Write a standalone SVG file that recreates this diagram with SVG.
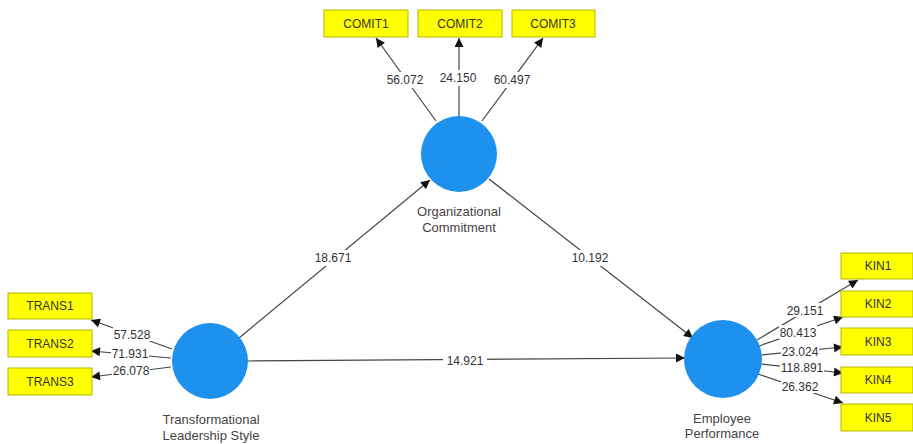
<svg xmlns="http://www.w3.org/2000/svg" width="913" height="444" viewBox="0 0 913 444">
<style>
.ind rect{fill:#ffff00;stroke:#b5b500;stroke-width:1}
.ind text{font-family:"Liberation Sans",Arial,sans-serif;font-size:12px;fill:#333;text-anchor:middle}
.lv circle{fill:#1e90ee}
.lv text{font-family:"Liberation Sans",Arial,sans-serif;font-size:13px;fill:#444;text-anchor:middle}
.c line{stroke:#444;stroke-width:1.2;marker-end:url(#ah)}
.c rect{fill:#fff}
.c text{font-family:"Liberation Sans",Arial,sans-serif;font-size:12px;fill:#333;text-anchor:middle}
</style>
<defs>
<marker id="ah" viewBox="0 0 10 10" refX="10" refY="5" markerWidth="10" markerHeight="9" markerUnits="userSpaceOnUse" orient="auto">
<path d="M0,0L10,5L0,10z" fill="#111"/>
</marker>
</defs>
<rect width="913" height="444" fill="#fff"/>
<g class="c" id="connectors">
<line x1="436" y1="121" x2="376" y2="38"/>
<line x1="459" y1="116" x2="459" y2="38"/>
<line x1="482" y1="121" x2="543" y2="38"/>
<line x1="172" y1="349" x2="91" y2="320"/>
<line x1="171" y1="358" x2="91" y2="351"/>
<line x1="171" y1="367" x2="91" y2="377"/>
<line x1="757" y1="340" x2="858" y2="280"/>
<line x1="759" y1="346" x2="843" y2="317"/>
<line x1="761" y1="355" x2="843" y2="347"/>
<line x1="761" y1="364" x2="843" y2="373"/>
<line x1="758" y1="374" x2="843" y2="403"/>
<line x1="239" y1="338" x2="430" y2="180"/>
<line x1="489" y1="179" x2="693" y2="338"/>
<line x1="248" y1="361" x2="685" y2="358"/>
<rect x="386" y="72" width="38" height="16"/><text x="405" y="84">56.072</text>
<rect x="439" y="70" width="38" height="16"/><text x="458" y="82">24.150</text>
<rect x="493" y="72" width="38" height="16"/><text x="512" y="84">60.497</text>
<rect x="113" y="327" width="38" height="14"/><text x="132" y="339">57.528</text>
<rect x="111" y="346" width="38" height="14"/><text x="130" y="358">71.931</text>
<rect x="112" y="363" width="38" height="14"/><text x="131" y="375">26.078</text>
<rect x="786" y="303" width="38" height="14"/><text x="805" y="315">29.151</text>
<rect x="779" y="325" width="38" height="14"/><text x="798" y="337">80.413</text>
<rect x="781" y="344" width="38" height="14"/><text x="800" y="356">23.024</text>
<rect x="780" y="360" width="44" height="14"/><text x="802" y="372">118.891</text>
<rect x="781" y="379" width="38" height="14"/><text x="800" y="391">26.362</text>
<rect x="314" y="250" width="38" height="16"/><text x="333" y="262">18.671</text>
<rect x="571" y="250" width="38" height="16"/><text x="590" y="262">10.192</text>
<rect x="443" y="353" width="44" height="16"/><text x="465" y="365">14.921</text>
</g>
<g class="ind" id="COMIT1"><rect x="324" y="10" width="84" height="27"/><text x="366" y="28">COMIT1</text></g>
<g class="ind" id="COMIT2"><rect x="418" y="10" width="84" height="27"/><text x="460" y="28">COMIT2</text></g>
<g class="ind" id="COMIT3"><rect x="512" y="10" width="83" height="27"/><text x="553" y="28">COMIT3</text></g>
<g class="ind" id="TRANS1"><rect x="8" y="293" width="84" height="26"/><text x="50" y="310">TRANS1</text></g>
<g class="ind" id="TRANS2"><rect x="8" y="330" width="84" height="27"/><text x="50" y="348">TRANS2</text></g>
<g class="ind" id="TRANS3"><rect x="8" y="368" width="84" height="27"/><text x="50" y="386">TRANS3</text></g>
<g class="ind" id="KIN1"><rect x="841" y="253" width="72" height="26"/><text x="878" y="270">KIN1</text></g>
<g class="ind" id="KIN2"><rect x="841" y="291" width="72" height="26"/><text x="878" y="308">KIN2</text></g>
<g class="ind" id="KIN3"><rect x="841" y="328" width="72" height="27"/><text x="878" y="346">KIN3</text></g>
<g class="ind" id="KIN4"><rect x="841" y="367" width="72" height="26"/><text x="878" y="384">KIN4</text></g>
<g class="ind" id="KIN5"><rect x="841" y="404" width="72" height="27"/><text x="878" y="422">KIN5</text></g>
<g class="lv" id="OC"><circle cx="459" cy="154" r="38"/><text x="459" y="216">Organizational</text><text x="459" y="232">Commitment</text></g>
<g class="lv" id="TLS"><circle cx="210" cy="361" r="38"/><text x="211" y="424">Transformational</text><text x="211" y="440">Leadership Style</text></g>
<g class="lv" id="EP"><circle cx="723" cy="359" r="39"/><text x="722" y="423">Employee</text><text x="722" y="438">Performance</text></g>
</svg>
